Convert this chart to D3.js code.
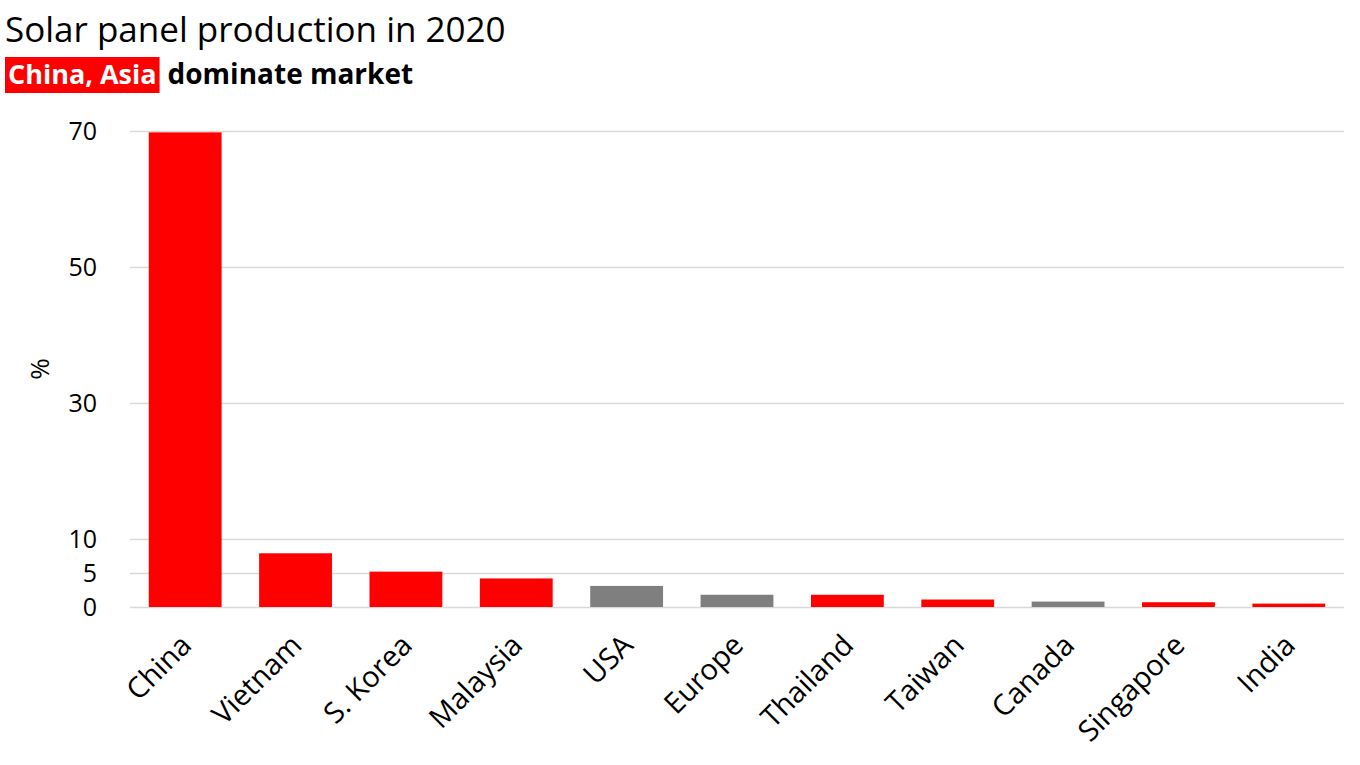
<!DOCTYPE html>
<html>
<head>
<meta charset="utf-8">
<script src="https://cdn.jsdelivr.net/npm/d3@7"></script>
<style>
  body { margin: 0; background: #fff; }
  text { font-family: "Open Sans", "Noto Sans", sans-serif; }
</style>
</head>
<body>
<div id="chart"></div>
<script>
// Share of global solar panel production, 2020 (%)
const countries = ["China", "Vietnam", "S. Korea", "Malaysia", "USA", "Europe",
                   "Thailand", "Taiwan", "Canada", "Singapore", "India"];
const shares = [69.8, 7.9, 5.2, 4.2, 3.1, 1.8, 1.8, 1.1, 0.8, 0.7, 0.5];
const regions = ["Asia", "Asia", "Asia", "Asia", "Other", "Other",
                 "Asia", "Asia", "Other", "Asia", "Asia"];
const yTicks = [0, 5, 10, 30, 50, 70];

const width = 1360, height = 765;
const margin = { top: 131, right: 16, bottom: 158, left: 130 };

const svg = d3.select("#chart").append("svg")
    .attr("width", width)
    .attr("height", height);

const x = d3.scaleBand()
    .domain(countries)
    .range([margin.left, width - margin.right])
    .paddingInner(0.34)
    .paddingOuter(0.17);

const y = d3.scaleLinear()
    .domain([0, 70])
    .range([height - margin.bottom, margin.top]);

const color = d3.scaleOrdinal()
    .domain(["Asia", "Other"])
    .range(["#ff0000", "#7f7f7f"]);

// gridlines + tick labels
const yAxis = svg.append("g")
    .attr("transform", `translate(${margin.left},0)`)
    .call(d3.axisLeft(y)
        .tickValues(yTicks)
        .tickSize(-(width - margin.left - margin.right))
        .tickPadding(33));
yAxis.select(".domain").remove();
yAxis.selectAll(".tick line")
    .attr("stroke", "#d9d9d9")
    .attr("stroke-width", 1.5);
yAxis.selectAll(".tick text")
    .attr("fill", "#000")
    .style("font-size", "25px");

// bars
svg.append("g")
    .selectAll("rect")
    .data(countries)
    .join("rect")
    .attr("x", d => x(d))
    .attr("y", (d, i) => y(shares[i]))
    .attr("width", x.bandwidth())
    .attr("height", (d, i) => y(0) - y(shares[i]))
    .attr("fill", (d, i) => color(regions[i]));

// category labels
const xAxis = svg.append("g")
    .attr("transform", `translate(0,${y(0)})`)
    .call(d3.axisBottom(x).tickSize(0).tickPadding(0));
xAxis.select(".domain").remove();
xAxis.selectAll(".tick text")
    .attr("fill", "#000")
    .style("font-size", "29px")
    .attr("text-anchor", "end")
    .attr("dy", null)
    .attr("transform", "translate(8,40) rotate(-45)");

// y-axis label
svg.append("text")
    .attr("transform", `translate(49,${(y(0) + y(70)) / 2}) rotate(-90)`)
    .attr("text-anchor", "middle")
    .style("font-size", "26px")
    .text("%");

// title
svg.append("text")
    .attr("x", 5)
    .attr("y", 42)
    .style("font-size", "35px")
    .text("Solar panel production in 2020");

// subtitle with highlighted part
const hlBox = svg.append("rect")
    .attr("x", 5)
    .attr("y", 57)
    .attr("height", 36)
    .attr("fill", "#ff0000");
const hl = svg.append("text")
    .attr("x", 8)
    .attr("y", 84)
    .style("font-size", "27px")
    .style("font-weight", "bold")
    .attr("fill", "#fff")
    .text("China, Asia");
const hlWidth = hl.node().getComputedTextLength();
hlBox.attr("width", hlWidth + 6);
svg.append("text")
    .attr("x", 5 + hlWidth + 6 + 8)
    .attr("y", 84)
    .style("font-size", "28px")
    .style("font-weight", "bold")
    .text("dominate market");
</script>
</body>
</html>
